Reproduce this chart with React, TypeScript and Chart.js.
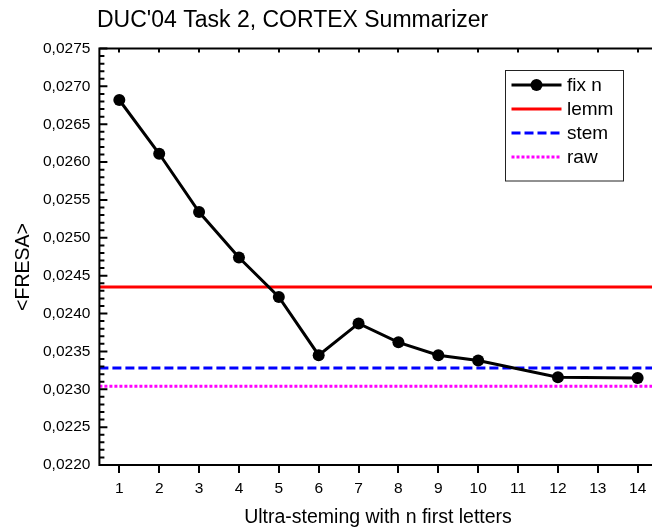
import React, { useEffect, useRef } from "react";
import { Chart, registerables } from "chart.js";

Chart.register(...registerables);

// ---- data ----
const xValues = [1, 2, 3, 4, 5, 6, 7, 8, 9, 10, 12, 14];
const fixN = [0.02682, 0.02611, 0.02534, 0.02474, 0.02422, 0.02345, 0.02387, 0.02362, 0.02345, 0.02338, 0.02316, 0.02315];
const lemmValue = 0.02435;
const stemValue = 0.02328;
const rawValue = 0.02304;
const xTickValues = [1, 2, 3, 4, 5, 6, 7, 8, 9, 10, 11, 12, 13, 14];
const yTickValues = [0.022, 0.0225, 0.023, 0.0235, 0.024, 0.0245, 0.025, 0.0255, 0.026, 0.0265, 0.027, 0.0275];
const seriesLabels = ["fix n", "lemm", "stem", "raw"];
const titleText = "DUC'04 Task 2, CORTEX Summarizer";
const xTitleText = "Ultra-steming with n first letters";
const yTitleText = "<FRESA>";

const X_MIN = 0.5;
const X_MAX = 14.36;
const Y_MIN = 0.022;
const Y_MAX = 0.0275;
const FONT = "'Liberation Sans', Arial, Helvetica, sans-serif";

const colors = ["#000000", "#ff0000", "#0000ff", "#ff00ff"];
const dashes: number[][] = [[], [], [9, 4], [3, 2]];

const decorPlugin = {
  id: "decor",
  afterDatasetsDraw(chart: any) {
    const { ctx, chartArea: ca, scales } = chart;
    const x = scales.x;
    const y = scales.y;
    ctx.save();
    ctx.strokeStyle = "#000";
    ctx.lineWidth = 2;
    ctx.setLineDash([]);
    ctx.beginPath();
    ctx.moveTo(ca.left, ca.top);
    ctx.lineTo(ca.left, ca.bottom);
    ctx.moveTo(ca.left - 1, ca.bottom);
    ctx.lineTo(ca.right, ca.bottom);
    ctx.moveTo(ca.left - 1, ca.top);
    ctx.lineTo(ca.right, ca.top);
    ctx.stroke();
    ctx.lineWidth = 2;
    ctx.beginPath();
    for (const v of xTickValues) {
      const px = Math.round(x.getPixelForValue(v));
      ctx.moveTo(px, ca.bottom);
      ctx.lineTo(px, ca.bottom + 8);
      ctx.moveTo(px, ca.top);
      ctx.lineTo(px, ca.top + 4);
    }
    const n = Math.round((Y_MAX - Y_MIN) / 0.0001);
    for (let k = 0; k <= n; k++) {
      const v = Y_MIN + k * 0.0001;
      const py = y.getPixelForValue(v);
      const len = k % 5 === 0 ? 8 : 5;
      ctx.moveTo(ca.left, py);
      ctx.lineTo(ca.left + len, py);
    }
    ctx.stroke();
    ctx.restore();
  },
  afterDraw(chart: any) {
    const { ctx } = chart;
    ctx.save();
    ctx.fillStyle = "#000";
    // title
    ctx.font = `23px ${FONT}`;
    ctx.textAlign = "left";
    ctx.textBaseline = "alphabetic";
    ctx.fillText(titleText, 97, 27);
    // x title
    ctx.font = `19.5px ${FONT}`;
    ctx.textAlign = "center";
    ctx.fillText(xTitleText, 378, 523);
    // y title
    ctx.save();
    ctx.translate(28.5, 267);
    ctx.rotate(-Math.PI / 2);
    ctx.textAlign = "center";
    ctx.fillText(yTitleText, 0, 0);
    ctx.restore();

    // legend
    const bx = 505.5, by = 70.5, bw = 118, bh = 110.5;
    ctx.fillStyle = "#fff";
    ctx.fillRect(bx, by, bw, bh);
    ctx.strokeStyle = "#222";
    ctx.lineWidth = 1;
    ctx.setLineDash([]);
    ctx.strokeRect(bx, by, bw, bh);
    const rows = [85, 109, 133, 157];
    chart.data.datasets.forEach((ds: any, i: number) => {
      const ry = rows[i];
      ctx.strokeStyle = ds.borderColor;
      ctx.lineWidth = 3;
      ctx.setLineDash(ds.borderDash || []);
      ctx.beginPath();
      ctx.moveTo(511.5, ry);
      ctx.lineTo(561.5, ry);
      ctx.stroke();
      if (i === 0) {
        ctx.fillStyle = "#000";
        ctx.beginPath();
        ctx.arc(536.5, ry, 6, 0, Math.PI * 2);
        ctx.fill();
      }
      ctx.fillStyle = "#000";
      ctx.font = `19px ${FONT}`;
      ctx.textAlign = "left";
      ctx.textBaseline = "middle";
      ctx.fillText(ds.label, 567, ry + 1);
    });
    ctx.restore();
  },
};

export default function App() {
  const ref = useRef<HTMLCanvasElement | null>(null);
  useEffect(() => {
    document.body.style.margin = "0";
    const canvas = ref.current;
    if (!canvas) return;
    const hline = (v: number) => [
      { x: X_MIN, y: v },
      { x: X_MAX, y: v },
    ];
    const chart = new Chart(canvas, {
      type: "line",
      data: {
        datasets: [
          {
            label: seriesLabels[0],
            data: xValues.map((xv, i) => ({ x: xv, y: fixN[i] })),
            borderColor: colors[0],
            backgroundColor: colors[0],
            borderWidth: 3,
            pointRadius: 6,
            pointBorderWidth: 0,
            pointBackgroundColor: "#000",
            tension: 0,
          },
          {
            label: seriesLabels[1],
            data: hline(lemmValue),
            borderColor: colors[1],
            borderWidth: 3,
            pointRadius: 0,
          },
          {
            label: seriesLabels[2],
            data: hline(stemValue),
            borderColor: colors[2],
            borderWidth: 3,
            borderDash: dashes[2],
            pointRadius: 0,
          },
          {
            label: seriesLabels[3],
            data: hline(rawValue),
            borderColor: colors[3],
            borderWidth: 3,
            borderDash: dashes[3],
            pointRadius: 0,
          },
        ],
      },
      options: {
        responsive: false,
        animation: false,
        devicePixelRatio: 1,
        layout: { autoPadding: false, padding: { top: 48.5, right: 0, bottom: 0, left: 0 } },
        plugins: {
          legend: { display: false },
          title: { display: false },
          tooltip: { enabled: false },
        },
        scales: {
          x: {
            type: "linear",
            min: X_MIN,
            max: X_MAX,
            grid: { display: false, drawTicks: true, tickLength: 11 },
            border: { display: false },
            afterBuildTicks: (s: any) => {
              s.ticks = xTickValues.map((v) => ({ value: v }));
            },
            afterFit: (s: any) => {
              s.height = 64;
              s.paddingLeft = 0;
              s.paddingRight = 0;
            },
            ticks: {
              color: "#000",
              padding: 3,
              autoSkip: false,
              maxRotation: 0,
              font: { family: FONT, size: 15.5 },
              callback: (v: any) => String(v),
            },
          },
          y: {
            type: "linear",
            min: Y_MIN,
            max: Y_MAX,
            grid: { display: false, drawTicks: true, tickLength: 8 },
            border: { display: false },
            afterBuildTicks: (s: any) => {
              s.ticks = yTickValues.map((v) => ({ value: v }));
            },
            afterFit: (s: any) => {
              s.width = 99.4;
              s.paddingTop = 0;
              s.paddingBottom = 0;
            },
            ticks: {
              color: "#000",
              padding: 1,
              autoSkip: false,
              font: { family: FONT, size: 15.5 },
              callback: (v: any) => Number(v).toFixed(4).replace(".", ","),
            },
          },
        },
      },
      plugins: [decorPlugin],
    });
    return () => chart.destroy();
  }, []);
  return (
    <div style={{ position: "absolute", left: 0, top: 0, width: 652, height: 529 }}>
      <canvas ref={ref} width={652} height={529} style={{ display: "block" }} />
    </div>
  );
}
